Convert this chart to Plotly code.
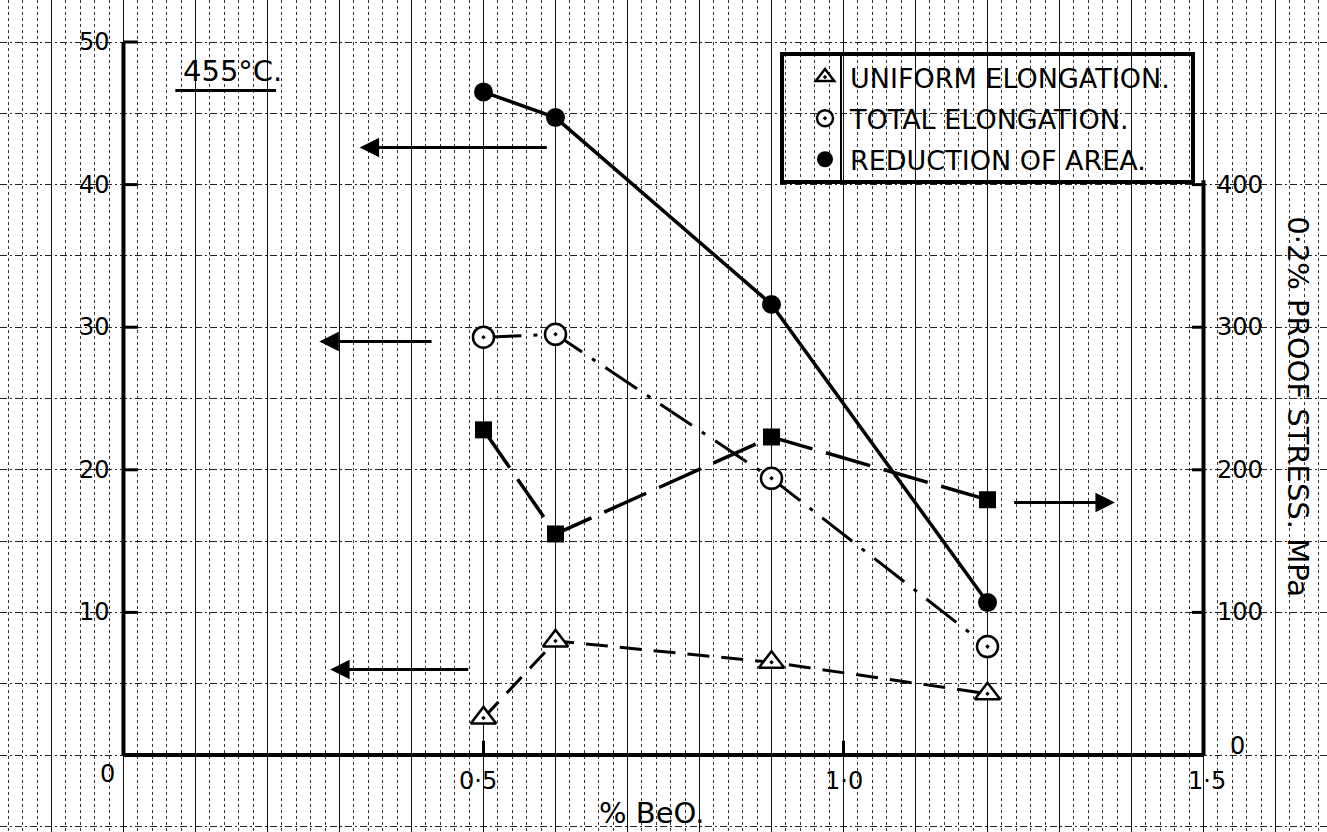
import plotly.graph_objects as go

# ---- data ----
beo_pct = [0.5, 0.6, 0.9, 1.2]
uniform_elong = [2.6, 8.0, 6.5, 4.3]
total_elong = [29.3, 29.5, 19.4, 7.6]
reduction_area = [46.5, 44.7, 31.6, 10.7]
proof_stress = [228, 155, 223, 179]

left_ticks = [0, 10, 20, 30, 40, 50]
right_ticks = [0, 100, 200, 300, 400]
x_ticks = [0.5, 1.0, 1.5]
x_tick_text = ["0·5", "1·0", "1·5"]
legend_names = ["UNIFORM ELONGATION.", "TOTAL ELONGATION.", "REDUCTION OF AREA."]

# arrows: (tail_x, tip_x, y_value, axis)
arrows = [(0.590, 0.328, 42.6, "y"), (0.430, 0.272, 29.0, "y"),
          (0.481, 0.287, 6.0, "y"), (1.235, 1.377, 177.0, "y2")]

W, H = 1327, 832
X_RANGE = [-0.1715, 1.6715]
Y_RANGE = [-5.40, 52.945]
Y2_RANGE = [v * 10 for v in Y_RANGE]
FONT = "DejaVu Sans"

fig = go.Figure()

fig.add_trace(go.Scatter(x=beo_pct, y=proof_stress, yaxis="y2", mode="lines+markers",
                         line=dict(color="black", width=3.5, dash="46px,14px"),
                         marker=dict(symbol="square", size=17, color="black"),
                         showlegend=False))
fig.add_trace(go.Scatter(x=beo_pct, y=uniform_elong, mode="lines+markers",
                         line=dict(color="black", width=3, dash="22px,12px"),
                         marker=dict(symbol="triangle-up-dot", size=22, color="white",
                                     line=dict(color="black", width=2.5)),
                         showlegend=False))
fig.add_trace(go.Scatter(x=beo_pct, y=total_elong, mode="lines+markers",
                         line=dict(color="black", width=3, dash="38px,12px,4px,12px"),
                         marker=dict(symbol="circle-dot", size=21, color="white",
                                     line=dict(color="black", width=2.5)),
                         showlegend=False))
fig.add_trace(go.Scatter(x=beo_pct, y=reduction_area, mode="lines+markers",
                         line=dict(color="black", width=3.5),
                         marker=dict(symbol="circle", size=19, color="black"),
                         showlegend=False))

# legend-only entries (markers only, as in the hand drawn key)
legend_markers = [
    dict(symbol="triangle-up-dot", size=16, color="white", line=dict(color="black", width=2.5)),
    dict(symbol="circle-dot", size=16, color="white", line=dict(color="black", width=2.5)),
    dict(symbol="circle", size=16, color="black"),
]
for i, (name, mk) in enumerate(zip(legend_names, legend_markers)):
    fig.add_trace(go.Scatter(x=[None], y=[None], mode="markers", name=name, marker=mk,
                             legendgroup=f"g{i}", showlegend=True))

shapes = []
# axis frame
shapes.append(dict(type="line", xref="x", yref="y", x0=0, x1=0, y0=0, y1=left_ticks[-1],
                   line=dict(color="black", width=4)))
shapes.append(dict(type="line", xref="x", yref="y", x0=0, x1=x_ticks[-1], y0=0, y1=0,
                   line=dict(color="black", width=4)))
shapes.append(dict(type="line", xref="x", yref="y2", x0=x_ticks[-1], x1=x_ticks[-1], y0=0, y1=403,
                   line=dict(color="black", width=4)))
for v in left_ticks[1:]:
    shapes.append(dict(type="line", xref="x", yref="y", x0=0, x1=0.02, y0=v, y1=v,
                       line=dict(color="black", width=3)))
for v in right_ticks[1:]:
    shapes.append(dict(type="line", xref="x", yref="y2", x0=x_ticks[-1] - 0.016, x1=x_ticks[-1],
                       y0=v, y1=v, line=dict(color="black", width=3)))
for v in x_ticks[:-1]:
    shapes.append(dict(type="line", xref="x", yref="y", x0=v, x1=v, y0=0, y1=1.0,
                       line=dict(color="black", width=3)))
# legend box and separator
shapes.append(dict(type="rect", xref="paper", yref="paper", x0=782 / W, x1=1193 / W,
                   y0=1 - 182 / H, y1=1 - 54 / H, line=dict(color="black", width=4)))
shapes.append(dict(type="line", xref="paper", yref="paper", x0=841 / W, x1=841 / W,
                   y0=1 - 182 / H, y1=1 - 54 / H, line=dict(color="black", width=2)))
# underline of the temperature label
shapes.append(dict(type="line", xref="x", yref="y", x0=0.072, x1=0.212, y0=46.6, y1=46.6,
                   line=dict(color="black", width=3)))

annotations = []
for v in left_ticks:
    if v == 0:
        annotations.append(dict(x=-0.022, y=-1.3, xref="x", yref="y", text=str(v),
                                showarrow=False, font=dict(size=24)))
    else:
        annotations.append(dict(x=-0.040, y=v, xref="x", yref="y", text=str(v),
                                showarrow=False, font=dict(size=24)))
for v in right_ticks:
    if v == 0:
        annotations.append(dict(x=1.547, y=6, xref="x", yref="y2", text=str(v),
                                showarrow=False, font=dict(size=24)))
    else:
        annotations.append(dict(x=1.551, y=v, xref="x", yref="y2", text=str(v),
                                showarrow=False, font=dict(size=24)))
for v, t in zip(x_ticks, x_tick_text):
    dx = 0.005 if v == 1.5 else -0.008 if v == 0.5 else 0.0
    annotations.append(dict(x=v + dx, y=-1.8, xref="x", yref="y", text=t,
                            showarrow=False, font=dict(size=24)))
annotations.append(dict(x=0.734, y=-4.1, xref="x", yref="y", text="% BeO.",
                        showarrow=False, font=dict(size=29)))
annotations.append(dict(x=1.631, y=24.4, xref="x", yref="y", text="0·2% PROOF STRESS. MPa",
                        textangle=90, showarrow=False, font=dict(size=29)))
annotations.append(dict(x=0.152, y=48.0, xref="x", yref="y", text="455°C.",
                        showarrow=False, font=dict(size=29)))
for tail, tip, yv, ax in arrows:
    annotations.append(dict(x=tip, y=yv, ax=tail, ay=yv, xref="x", yref=ax, axref="x", ayref=ax,
                            text="", showarrow=True, arrowhead=2, arrowsize=1.3,
                            arrowwidth=3, arrowcolor="black"))

fig.update_layout(
    width=W, height=H,
    margin=dict(l=0, r=0, t=0, b=0, pad=0),
    paper_bgcolor="white", plot_bgcolor="white",
    font=dict(family=FONT, color="black"),
    xaxis=dict(range=X_RANGE, tick0=0, dtick=0.1, showgrid=True, gridcolor="#111",
               gridwidth=1, zeroline=False, showticklabels=False, ticks="",
               minor=dict(tick0=0, dtick=0.02, showgrid=True, gridcolor="#333",
                          griddash="3px,3px", gridwidth=1)),
    yaxis=dict(range=Y_RANGE, tick0=0, dtick=5, showgrid=True, gridcolor="#222",
               griddash="7px,3px,2px,3px", gridwidth=1, zeroline=False,
               showticklabels=False, ticks=""),
    yaxis2=dict(range=Y2_RANGE, overlaying="y", side="right", visible=False),
    legend=dict(x=800 / W, y=1 - 53 / H, xanchor="left", yanchor="top",
                bgcolor="rgba(0,0,0,0)", borderwidth=0, tracegroupgap=3,
                font=dict(family=FONT, size=27, color="black"), itemwidth=40),
    shapes=shapes,
    annotations=annotations,
)

fig.write_html("out.html", config={"displayModeBar": False},
               post_script=["document.body.style.margin='0';"])
